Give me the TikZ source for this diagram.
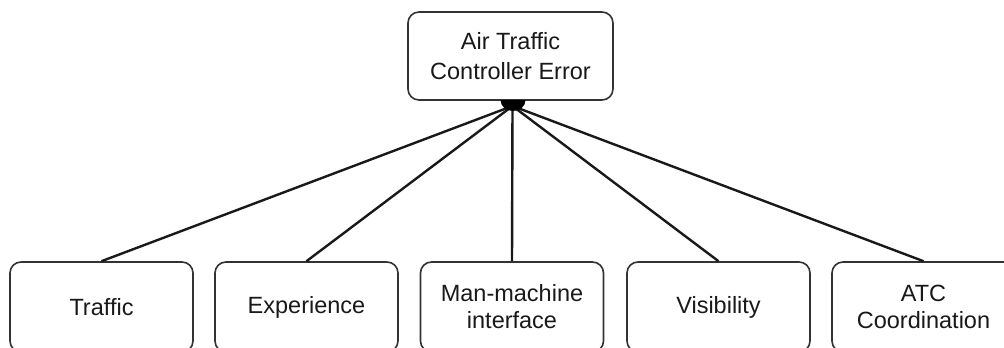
\documentclass[tikz,border=0pt]{standalone}
\usepackage{fontspec}
\setmainfont{Liberation Sans}
\begin{document}
\begin{tikzpicture}[x=1pt,y=-1pt,
  box/.style={draw=black!80, line width=1.6pt, rounded corners=11pt, fill=white,
    text=black!90, align=center, inner sep=0pt,
    font=\fontsize{23.5}{27}\selectfont},
  leaf/.style={box, minimum width=183pt, minimum height=90pt},
  link/.style={line width=2.4pt, black!90}]
\useasboundingbox (0,0) rectangle (1004,348);
\node[box, minimum width=205pt, minimum height=88pt,
      font=\fontsize{23.5}{30}\selectfont] (top) at (510.5,56) {Air Traffic\\Controller Error};
\node[leaf] (traffic) at (101.5,307) {Traffic};
\node[leaf] (exp) at (306.5,307) {Experience};
\node[leaf] (mmi) at (512,307) {Man-machine\\interface};
\node[leaf] (vis) at (718.5,307) {Visibility};
\node[leaf] (atc) at (923.5,307) {ATC\\Coordination};
\coordinate (hub) at (512.5,106);
\foreach \n in {traffic,exp,mmi,vis,atc}{
  \draw[link] (hub) -- (\n.north);
}
\fill[black] (500.5,100) arc[start angle=180, end angle=360, x radius=12.5pt, y radius=11pt] -- cycle;
\end{tikzpicture}
\end{document}
